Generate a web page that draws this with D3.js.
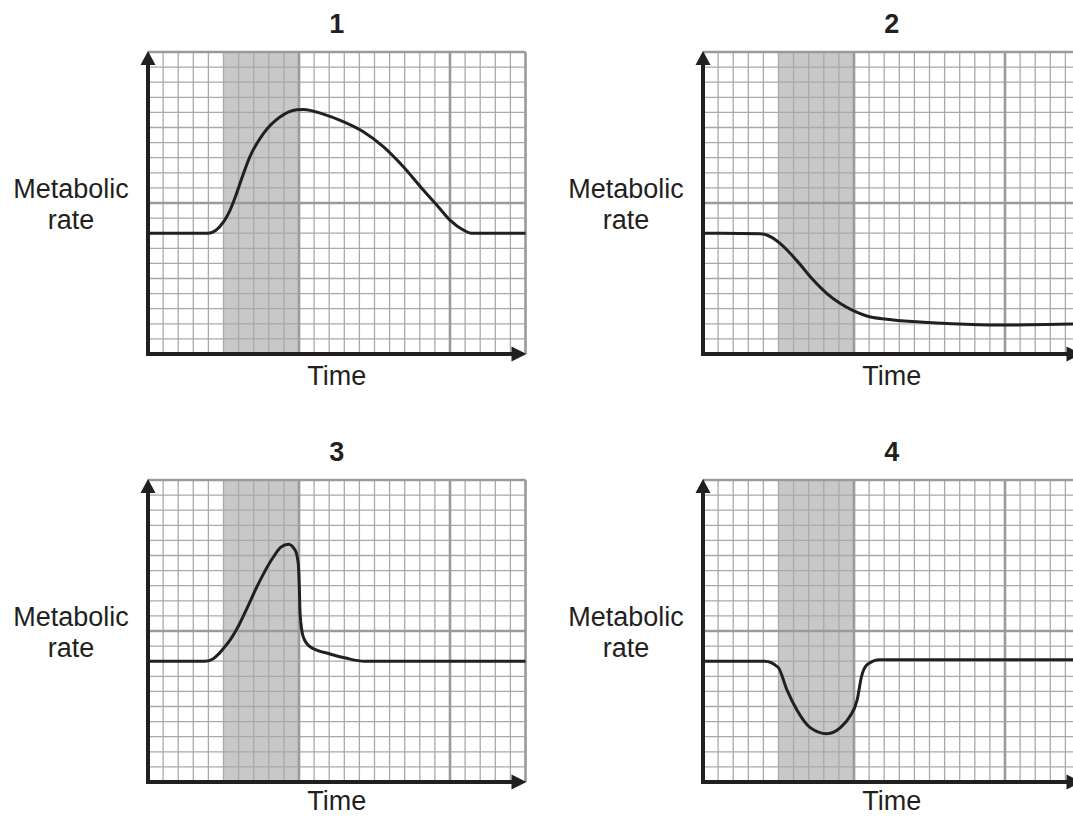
<!DOCTYPE html>
<html>
<head>
<meta charset="utf-8">
<title>Metabolic rate</title>
<script src="https://d3js.org/d3.v7.min.js"></script>
<style>
  body { margin: 0; background: #fff; }
  svg { display: block; overflow: hidden; }
  text { font-family: "Liberation Sans", Arial, sans-serif; fill: #231f20; }
</style>
</head>
<body>
<script>
// grid: 25 columns of time, 20 rows of rate
var gridCols = 25, gridRows = 20;
var majorCols = [10, 20, 25];
var majorRows = [10, 20];
var shadeFrom = 5, shadeTo = 10;

var titles = ["1", "2", "3", "4"];
var yLabel = ["Metabolic", "rate"];
var xLabel = "Time";

// curves, in grid units (column, row)
var curve1x = [0, 4.0, 4.5, 5.0, 5.4, 5.8, 6.2, 6.75, 7.64, 8.74, 9.85, 10.3, 11.61, 12.93, 14.26, 15.58, 16.91, 18.23, 19.12, 20.0, 20.88, 21.4, 25];
var curve1y = [8, 8, 8.2, 8.75, 9.45, 10.45, 11.6, 13.07, 14.6, 15.7, 16.18, 16.2, 15.89, 15.39, 14.72, 13.73, 12.4, 10.86, 9.87, 8.87, 8.21, 8.0, 8];

var curve2x = [0, 3.77, 4.22, 5.1, 6.2, 7.3, 8.19, 9.07, 9.95, 10.84, 12.17, 14.37, 16.5, 19.7, 22.7, 25];
var curve2y = [8, 7.97, 7.88, 7.33, 6.2, 4.9, 4.02, 3.36, 2.87, 2.52, 2.3, 2.12, 2.0, 1.92, 1.95, 2.0];

var curve3x = [0, 3.8, 4.3, 4.7, 5.0, 5.5, 6.0, 6.6, 7.2, 8.3, 8.8, 9.3, 9.74, 9.95, 10.02, 10.07, 10.28, 10.73, 12.05, 13.16, 14.3, 25];
var curve3y = [8, 8, 8.15, 8.5, 8.85, 9.5, 10.35, 11.6, 12.9, 14.9, 15.55, 15.75, 15.36, 14.48, 13.0, 11.17, 9.62, 8.96, 8.48, 8.19, 8.0, 8];

var curve4x = [0, 4.1, 4.97, 5.56, 6.2, 7.1, 8.2, 9.1, 9.7, 10.2, 10.5, 10.9, 11.7, 25];
var curve4y = [8, 8, 7.6, 6.1, 4.8, 3.6, 3.2, 3.6, 4.3, 5.4, 7.0, 7.8, 8.1, 8.1];

var curvesX = [curve1x, curve2x, curve3x, curve4x];
var curvesY = [curve1y, curve2y, curve3y, curve4y];

var W = 1073, H = 818;
var cell = 15.1;
var pw = gridCols * cell, ph = gridRows * cell;
// top-left corner of each plot area
var origins = [[148, 52], [703, 52], [148, 480], [703, 480]];
// gap under the x axis to the "Time" baseline (bottom row sits tight to the edge)
var timeGap = [31, 31, 28, 28];

var svg = d3.select("body").append("svg")
    .attr("width", W)
    .attr("height", H);

titles.forEach(function(t, i) {
    var ox = origins[i][0], oy = origins[i][1];
    var x = d3.scaleLinear().domain([0, gridCols]).range([ox, ox + pw]);
    var y = d3.scaleLinear().domain([0, gridRows]).range([oy + ph, oy]);
    var g = svg.append("g");

    // shaded band
    g.append("rect")
        .attr("x", x(shadeFrom))
        .attr("y", y(gridRows))
        .attr("width", x(shadeTo) - x(shadeFrom))
        .attr("height", y(0) - y(gridRows))
        .attr("fill", "#c8c8c9");

    // minor grid
    g.selectAll(".vc").data(d3.range(1, gridCols + 1)).join("line")
        .attr("x1", d => x(d)).attr("x2", d => x(d))
        .attr("y1", y(0)).attr("y2", y(gridRows))
        .attr("stroke", "#a9a9a9").attr("stroke-width", 1.3);
    g.selectAll(".hr").data(d3.range(1, gridRows + 1)).join("line")
        .attr("y1", d => y(d)).attr("y2", d => y(d))
        .attr("x1", x(0)).attr("x2", x(gridCols))
        .attr("stroke", "#a9a9a9").attr("stroke-width", 1.3);

    // major grid
    g.selectAll(".mc").data(majorCols).join("line")
        .attr("x1", d => x(d)).attr("x2", d => x(d))
        .attr("y1", y(0)).attr("y2", y(gridRows))
        .attr("stroke", "#9a9a9b").attr("stroke-width", 2.6);
    g.selectAll(".mr").data(majorRows).join("line")
        .attr("y1", d => y(d)).attr("y2", d => y(d))
        .attr("x1", x(0)).attr("x2", x(gridCols))
        .attr("stroke", "#9a9a9b").attr("stroke-width", 2.6);

    // the curve
    var pts = d3.zip(curvesX[i], curvesY[i]);
    g.append("path")
        .datum(pts)
        .attr("fill", "none")
        .attr("stroke", "#231f20")
        .attr("stroke-width", 3)
        .attr("stroke-linejoin", "round")
        .attr("d", d3.line()
            .x(d => x(d[0]))
            .y(d => y(d[1]))
            .curve(d3.curveMonotoneX));

    // axes with arrows
    var ax = x(0), ay = y(0);
    g.append("line")
        .attr("x1", ax).attr("x2", ax)
        .attr("y1", ay + 2).attr("y2", y(gridRows) + 10)
        .attr("stroke", "#231f20").attr("stroke-width", 4);
    g.append("line")
        .attr("x1", ax - 2).attr("x2", x(gridCols) - 10)
        .attr("y1", ay).attr("y2", ay)
        .attr("stroke", "#231f20").attr("stroke-width", 4);
    var top = y(gridRows) - 1;
    g.append("path")
        .attr("d", "M" + ax + "," + top + " L" + (ax - 7.5) + "," + (top + 14) + " L" + (ax + 7.5) + "," + (top + 14) + "Z")
        .attr("fill", "#231f20");
    var tip = x(gridCols) + 1;
    g.append("path")
        .attr("d", "M" + tip + "," + ay + " L" + (tip - 15) + "," + (ay - 7.5) + " L" + (tip - 15) + "," + (ay + 7.5) + "Z")
        .attr("fill", "#231f20");

    // texts
    g.append("text")
        .attr("x", ox + pw / 2)
        .attr("y", oy - 19)
        .attr("text-anchor", "middle")
        .attr("font-size", 27)
        .attr("font-weight", "bold")
        .text(t);
    g.append("text")
        .attr("x", ox + pw / 2)
        .attr("y", oy + ph + timeGap[i])
        .attr("text-anchor", "middle")
        .attr("font-size", 27)
        .text(xLabel);
    yLabel.forEach(function(s, k) {
        g.append("text")
            .attr("x", ox - 77)
            .attr("y", oy + 146 + k * 31)
            .attr("text-anchor", "middle")
            .attr("font-size", 27)
            .text(s);
    });
});
</script>
</body>
</html>
